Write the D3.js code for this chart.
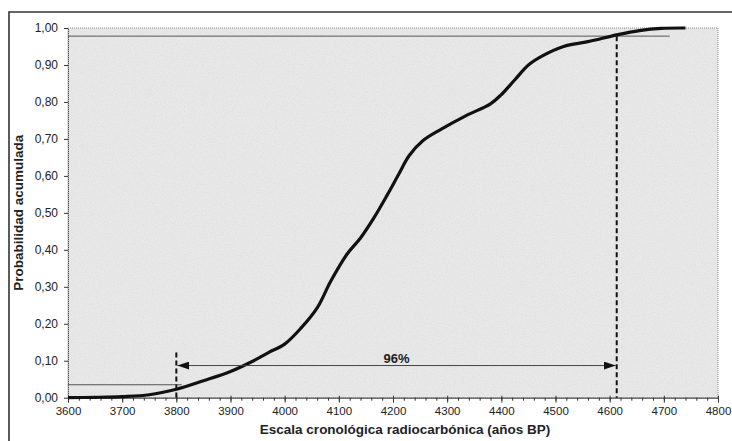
<!DOCTYPE html>
<html>
<head>
<meta charset="utf-8">
<script src="https://cdn.jsdelivr.net/npm/d3@7"></script>
<style>
  body { margin: 0; background: #fff; }
  svg { display: block; font-family: "Liberation Sans", Arial, sans-serif; }
  .tick text { font-size: 11.5px; fill: #222; }
  .axis path, .axis line { stroke: #333; }
</style>
</head>
<body>
<div id="chart"></div>
<script>
var w = 732;
var h = 441;
var margin = {top: 28, right: 14, bottom: 43.3, left: 68};

// cumulative probability curve
var years = [3600, 3650, 3700, 3750, 3800, 3850, 3900, 3940, 3970, 4000, 4030, 4060, 4085, 4115,
             4140, 4165, 4190, 4210, 4230, 4255, 4290, 4335, 4380, 4400, 4425, 4450, 4475,
             4515, 4560, 4615, 4655, 4695, 4740];
var probs = [0, 0.001, 0.003, 0.008, 0.023, 0.046, 0.071, 0.098, 0.122, 0.145, 0.188, 0.243, 0.315, 0.388,
             0.432, 0.487, 0.55, 0.603, 0.655, 0.695, 0.727, 0.763, 0.795, 0.82, 0.86, 0.9, 0.924,
             0.95, 0.963, 0.982, 0.993, 0.999, 1.0];

var xTicks = [3600, 3700, 3800, 3900, 4000, 4100, 4200, 4300, 4400, 4500, 4600, 4700, 4800];
var yTicks = [0, 0.1, 0.2, 0.3, 0.4, 0.5, 0.6, 0.7, 0.8, 0.9, 1.0];

// interval marks
var lowYear = 3800, highYear = 4613;
var lowProb = 0.035, highProb = 0.978;
var lowLineEnd = 3810, highLineEnd = 4711;
var arrowProb = 0.087;
var lowDashTop = 0.122;
var intervalLabel = "96%";

var formatComma = function(d) { return d3.format(".2f")(d).replace(".", ","); };

var svg = d3.select("#chart").append("svg")
    .attr("width", w)
    .attr("height", h);

var defs = svg.append("defs");
var filt = defs.append("filter").attr("id", "grain").attr("x", 0).attr("y", 0).attr("width", "100%").attr("height", "100%");
filt.append("feTurbulence").attr("type", "fractalNoise").attr("baseFrequency", 0.9).attr("numOctaves", 2).attr("seed", 3);
filt.append("feColorMatrix").attr("type", "matrix")
    .attr("values", "0 0 0 0 0.5  0 0 0 0 0.5  0 0 0 0 0.5  0 0 0 -2.2 1.25");
filt.append("feComposite").attr("in2", "SourceGraphic").attr("operator", "in");

defs.append("marker").attr("id", "head")
    .attr("viewBox", "0 0 12 8").attr("refX", 12).attr("refY", 4)
    .attr("markerWidth", 12).attr("markerHeight", 8)
    .attr("markerUnits", "userSpaceOnUse").attr("orient", "auto-start-reverse")
  .append("path").attr("d", "M0,0 L12,4 L0,8 Z").attr("fill", "#111");

// outer frame
svg.append("path")
    .attr("d", "M9," + h + " L9,12 L" + w + ",12")
    .attr("fill", "none").attr("stroke", "#333").attr("stroke-width", 1.6);

var x = d3.scaleLinear().domain([3600, 4800]).range([margin.left, w - margin.right]);
var y = d3.scaleLinear().domain([0, 1]).range([h - margin.bottom, margin.top]);

// plot area
svg.append("rect")
    .attr("x", x(3600)).attr("y", y(1))
    .attr("width", x(4800) - x(3600)).attr("height", y(0) - y(1))
    .attr("fill", "#e8e8e8");
svg.append("rect")
    .attr("x", x(3600)).attr("y", y(1))
    .attr("width", x(4800) - x(3600)).attr("height", y(0) - y(1))
    .attr("fill", "#fff").attr("filter", "url(#grain)").attr("opacity", 0.22);
svg.append("rect")
    .attr("x", x(3600)).attr("y", y(1))
    .attr("width", x(4800) - x(3600)).attr("height", y(0) - y(1))
    .attr("fill", "none").attr("stroke", "#888").attr("stroke-dasharray", "1,1");

// minor x ticks
svg.append("g")
    .attr("class", "axis")
    .attr("transform", "translate(0," + y(0) + ")")
    .call(d3.axisBottom(x).tickValues(d3.range(3600, 4801, 20)).tickSize(3).tickFormat(""))
    .call(function(g) { g.select(".domain").remove(); });

svg.append("g")
    .attr("class", "axis")
    .attr("transform", "translate(0," + y(0) + ")")
    .call(d3.axisBottom(x).tickValues(xTicks).tickSize(5).tickSizeOuter(0).tickPadding(4).tickFormat(d3.format("d")))
    .call(function(g) { g.selectAll(".tick line").attr("y1", -2); });

svg.append("g")
    .attr("class", "axis")
    .attr("transform", "translate(" + x(3600) + ",0)")
    .call(d3.axisLeft(y).tickValues(yTicks).tickSize(4).tickSizeOuter(0).tickPadding(6).tickFormat(formatComma))
    .call(function(g) { g.select(".domain").attr("stroke-dasharray", "1,1"); })
    .call(function(g) { g.selectAll(".tick text").attr("font-size", "12px").style("font-size", "12px"); });

// reference lines
svg.append("line")
    .attr("x1", x(3600)).attr("x2", x(highLineEnd))
    .attr("y1", y(highProb)).attr("y2", y(highProb))
    .attr("stroke", "#555").attr("stroke-width", 1);
svg.append("line")
    .attr("x1", x(3600)).attr("x2", x(lowLineEnd))
    .attr("y1", y(lowProb)).attr("y2", y(lowProb))
    .attr("stroke", "#555").attr("stroke-width", 1);

// curve
var line = d3.line()
    .x(function(d, i) { return x(years[i]); })
    .y(function(d) { return y(d); })
    .curve(d3.curveCatmullRom.alpha(0.5));

svg.append("path")
    .datum(probs)
    .attr("d", line)
    .attr("fill", "none")
    .attr("stroke", "#111")
    .attr("stroke-width", 3.2)
    .attr("stroke-linejoin", "round");

// dashed limits
svg.append("line")
    .attr("x1", x(lowYear)).attr("x2", x(lowYear))
    .attr("y1", y(lowDashTop)).attr("y2", y(0))
    .attr("stroke", "#111").attr("stroke-width", 2).attr("stroke-dasharray", "5,3");
svg.append("line")
    .attr("x1", x(highYear)).attr("x2", x(highYear))
    .attr("y1", y(highProb)).attr("y2", y(0))
    .attr("stroke", "#111").attr("stroke-width", 2).attr("stroke-dasharray", "5,3");

// interval arrow
svg.append("line")
    .attr("x1", x(lowYear) + 1).attr("x2", x(highYear) - 1)
    .attr("y1", y(arrowProb)).attr("y2", y(arrowProb))
    .attr("stroke", "#444").attr("stroke-width", 1)
    .attr("marker-start", "url(#head)").attr("marker-end", "url(#head)");

svg.append("text")
    .attr("x", (x(lowYear) + x(highYear)) / 2)
    .attr("y", y(arrowProb) - 3)
    .attr("text-anchor", "middle")
    .attr("font-size", "13px").attr("font-weight", "bold").attr("fill", "#222")
    .text(intervalLabel);

// axis titles
svg.append("text")
    .attr("x", 405).attr("y", 434)
    .attr("text-anchor", "middle")
    .attr("font-size", "13.5px").attr("font-weight", "bold").attr("fill", "#222")
    .text("Escala cronológica radiocarbónica (años BP)");

svg.append("text")
    .attr("transform", "translate(23," + ((y(0) + y(1)) / 2) + ") rotate(-90)")
    .attr("text-anchor", "middle")
    .attr("font-size", "13.5px").attr("font-weight", "bold").attr("fill", "#222")
    .text("Probabilidad acumulada");
</script>
</body>
</html>
